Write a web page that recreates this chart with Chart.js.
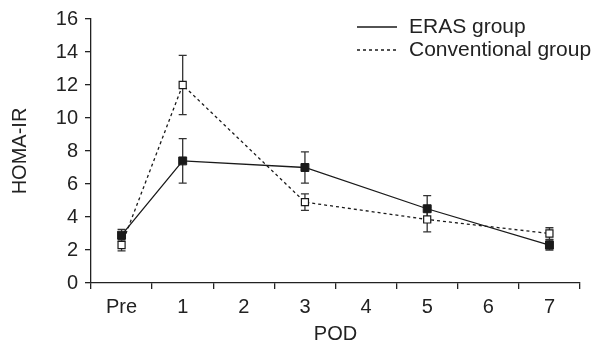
<!DOCTYPE html>
<html>
<head>
<meta charset="utf-8">
<script src="https://cdn.jsdelivr.net/npm/chart.js@4"></script>
<style>
  html, body { margin: 0; padding: 0; background: #fff; }
  #wrap { width: 596px; height: 344px; }
</style>
</head>
<body>
<div id="wrap"><canvas id="chart" width="596" height="344"></canvas></div>
<script>
// Data
const categories = ['Pre', '1', '2', '3', '4', '5', '6', '7'];
const erasMean = [2.9, 7.4, null, 7.0, null, 4.5, null, 2.3];
const erasErr  = [0.35, 1.35, null, 0.95, null, 0.8, null, 0.3];
const convMean = [2.3, 12.0, null, 4.9, null, 3.85, null, 3.0];
const convErr  = [0.35, 1.8, null, 0.5, null, 0.75, null, 0.35];
const yTicks = [0, 2, 4, 6, 8, 10, 12, 14, 16];

const ink = '#222';
const FONT = 'Liberation Sans, Arial, sans-serif';

// error bars, drawn under the markers
const errorBars = {
    id: 'errorBars',
    beforeDatasetsDraw(chart) {
        const { ctx, scales: { x, y } } = chart;
        ctx.save();
        ctx.strokeStyle = '#333';
        ctx.lineWidth = 1.3;
        chart.data.datasets.forEach(ds => {
            ds.data.forEach((v, i) => {
                if (v == null) return;
                const px = x.getPixelForValue(i);
                const top = y.getPixelForValue(v + ds.err[i]);
                const bot = y.getPixelForValue(v - ds.err[i]);
                ctx.beginPath();
                ctx.moveTo(px, top); ctx.lineTo(px, bot);
                ctx.moveTo(px - 4, top); ctx.lineTo(px + 4, top);
                ctx.moveTo(px - 4, bot); ctx.lineTo(px + 4, bot);
                ctx.stroke();
            });
        });
        ctx.restore();
    }
};

// legend in the top right corner
const cornerLegend = {
    id: 'cornerLegend',
    afterDraw(chart) {
        const { ctx } = chart;
        ctx.save();
        ctx.font = '21px ' + FONT;
        ctx.textBaseline = 'middle';
        ctx.fillStyle = ink;
        chart.data.datasets.forEach((ds, i) => {
            const yy = 27 + i * 23;
            ctx.strokeStyle = ds.borderColor;
            ctx.lineWidth = 1.3;
            ctx.setLineDash(ds.borderDash || []);
            ctx.beginPath();
            ctx.moveTo(357, yy); ctx.lineTo(397, yy);
            ctx.stroke();
            ctx.setLineDash([]);
            ctx.fillText(ds.label, 409, yy);
        });
        ctx.restore();
    }
};

new Chart(document.getElementById('chart'), {
    type: 'line',
    data: {
        labels: categories,
        datasets: [
            {
                label: 'ERAS group',
                data: erasMean,
                err: erasErr,
                borderColor: '#1a1a1a',
                borderWidth: 1.3,
                pointStyle: 'rect',
                pointRadius: 5.6,
                pointBackgroundColor: '#1a1a1a',
                pointBorderColor: '#1a1a1a',
                pointBorderWidth: 1,
                spanGaps: true,
                tension: 0
            },
            {
                label: 'Conventional group',
                data: convMean,
                err: convErr,
                borderColor: '#1a1a1a',
                borderWidth: 1.3,
                borderDash: [3, 3],
                pointStyle: 'rect',
                pointRadius: 5,
                pointBackgroundColor: '#fff',
                pointBorderColor: '#1a1a1a',
                pointBorderWidth: 1.2,
                spanGaps: true,
                tension: 0
            }
        ]
    },
    options: {
        responsive: false,
        animation: false,
        layout: { padding: { left: 0, right: 16, top: 17, bottom: 0 } },
        plugins: { legend: { display: false }, tooltip: { enabled: false } },
        scales: {
            x: {
                offset: true,
                grid: { offset: true, drawOnChartArea: false, drawTicks: true, tickLength: 6, color: ink, lineWidth: 1.3 },
                border: { display: true, color: ink, width: 1.3 },
                ticks: { color: ink, font: { family: FONT, size: 20 }, padding: 6, maxRotation: 0 },
                title: { display: true, text: 'POD', color: ink, font: { family: FONT, size: 20, lineHeight: 1 }, padding: { top: 0, bottom: 0 } },
                afterFit(scale) { scale.height = 61; }
            },
            y: {
                min: 0, max: 16,
                afterBuildTicks(scale) { scale.ticks = yTicks.map(v => ({ value: v })); },
                grid: { drawOnChartArea: false, drawTicks: true, tickLength: 6, color: ink, lineWidth: 1.3 },
                border: { display: true, color: ink, width: 1.3 },
                ticks: { color: ink, font: { family: FONT, size: 20 }, padding: 7 },
                title: { display: true, text: 'HOMA-IR', color: ink, font: { family: FONT, size: 20, lineHeight: 1 }, padding: { top: 10, bottom: 0 } },
                afterFit(scale) { scale.width = 91; }
            }
        }
    },
    plugins: [errorBars, cornerLegend]
});
</script>
</body>
</html>
